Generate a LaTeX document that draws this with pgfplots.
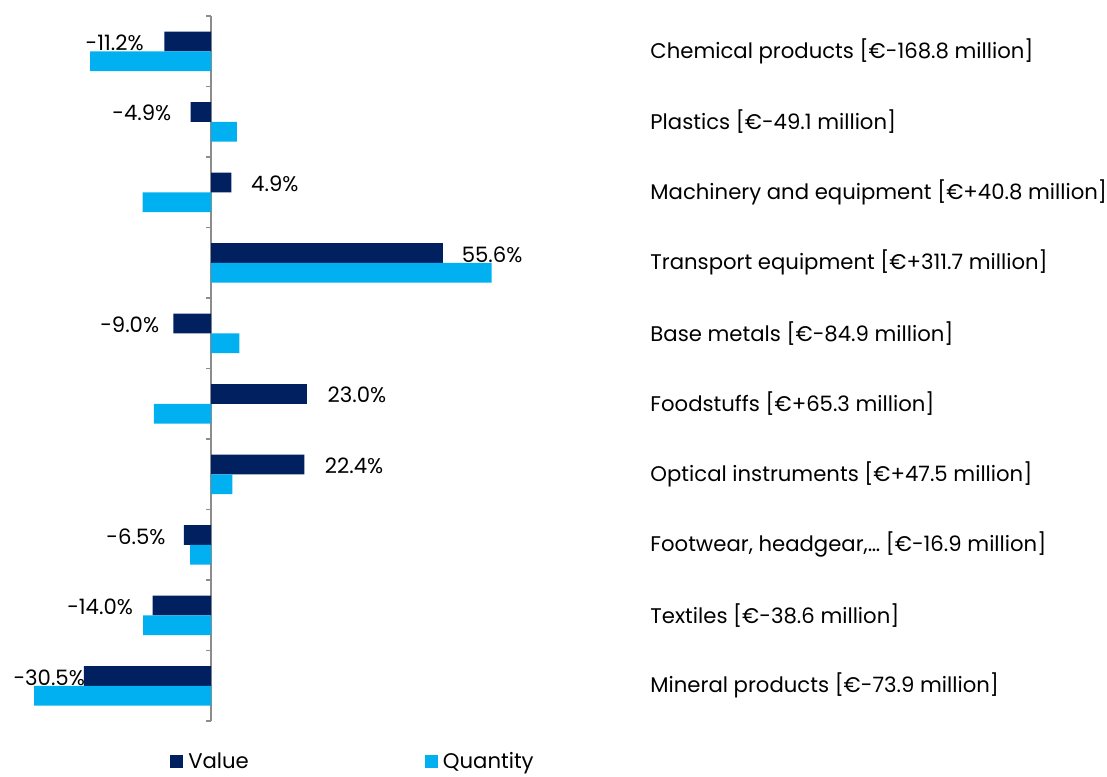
\documentclass[border=0pt]{standalone}
\usepackage{fontspec}
\setmainfont{Poppins}
\usepackage{pgfplots}
\pgfplotsset{compat=1.18}
\usepackage{pgfplotstable}
\definecolor{valcol}{HTML}{002060}
\definecolor{qtycol}{HTML}{00B0F0}
\definecolor{axgray}{HTML}{8C8C8C}

% row 0 = top category
\pgfplotstableread{
y value quantity
0 -11.2 -29.0
1 -4.9 6.2
2 4.9 -16.4
3 55.6 67.3
4 -9.0 6.8
5 23.0 -13.7
6 22.4 5.1
7 -6.5 -5.0
8 -14.0 -16.3
9 -30.5 -42.4
}\datatable

% label positions (x centre of the label, y of the Value bar)
\pgfplotstableread{
x y lab
-23.1 -0.12 -11.2
-16.6 0.88 -4.9
15.3 1.88 4.9
67.4 2.88 55.6
-19.5 3.88 -9.0
35.0 4.88 23.0
34.3 5.88 22.4
-18.0 6.88 -6.5
-26.6 7.88 -14.0
-38.8 8.88 -30.5
}\labtable

\pgfplotstableread{
x y
-1.2 -0.5
-1.2 0.5
-1.2 1.5
-1.2 2.5
-1.2 3.5
-1.2 4.5
-1.2 5.5
-1.2 6.5
-1.2 7.5
-1.2 8.5
-1.2 9.5
}\ticktable

\newcommand{\fs}{\fontsize{15.9pt}{18pt}\selectfont}

\begin{document}
\begin{tikzpicture}
\useasboundingbox (-8.13pt,-41.25pt) rectangle (822.1pt,540.75pt);
\begin{axis}[
  at={(0,0)}, anchor=south west,
  scale only axis,
  width=479.5pt, height=528.75pt,
  xmin=-48, xmax=105.3,
  ymin=-0.5, ymax=9.5,
  y dir=reverse,
  separate axis lines,
  axis line style={draw=none},
  xtick=\empty,
  ytick={0,...,9},
  yticklabels={
    {Chemical products [€-168.8 million]},
    {Plastics [€-49.1 million]},
    {Machinery and equipment [€+40.8 million]},
    {Transport equipment [€+311.7 million]},
    {Base metals [€-84.9 million]},
    {Foodstuffs [€+65.3 million]},
    {Optical instruments [€+47.5 million]},
    {Footwear, headgear,… [€-16.9 million]},
    {Textiles [€-38.6 million]},
    {Mineral products [€-73.9 million]}},
  yticklabel pos=right,
  ytick style={draw=none},
  yticklabel style={anchor=west, inner sep=0pt, font=\fs},
  extra x ticks={0},
  extra x tick labels={},
  extra x tick style={grid=major, major grid style={axgray, line width=0.8pt}, tick style={draw=none}},
  clip=false,
  legend style={draw=none, fill=none, at={(0.249,-0.0575)}, anchor=west,
    font=\fs, inner sep=0pt, legend columns=2,
    /tikz/every even column/.append style={column sep=130pt}},
  legend image code/.code={\fill[#1,draw=none] (0pt,-4.75pt) rectangle (9.5pt,4.75pt);},
]
\addplot[xcomb, axgray, line width=0.8pt, mark=none, forget plot] table[x=x,y=y]{\ticktable};
\addplot[xbar, bar width=0.28, bar shift=-0.14, fill=valcol, draw=none] table[x=value,y=y]{\datatable};
\addlegendentry{\hspace{2pt}Value}
\addplot[xbar, bar width=0.28, bar shift=0.14, fill=qtycol, draw=none] table[x=quantity,y=y]{\datatable};
\addlegendentry{\hspace{2pt}Quantity}
\addplot[draw=none, mark=none, forget plot, point meta=explicit symbolic,
  nodes near coords={\pgfplotspointmeta\%},
  every node near coord/.style={anchor=center, font=\fs, text=black, inner sep=0pt}]
  table[x=x,y=y,meta=lab]{\labtable};
\end{axis}
\end{tikzpicture}
\end{document}
